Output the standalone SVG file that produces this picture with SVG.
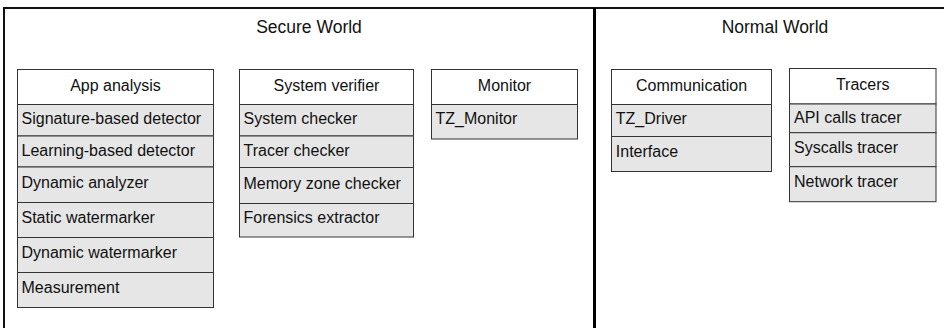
<svg xmlns="http://www.w3.org/2000/svg" width="944" height="328" viewBox="0 0 944 328">
<style>
.bg{fill:#ffffff}
.frame{fill:none;stroke:#111;stroke-width:2}
.div{stroke:#000;stroke-width:3}
.hd{fill:#ffffff;stroke:#333;stroke-width:1}
.row{fill:#e6e6e6;stroke:#333;stroke-width:1}
.title{font-family:"Liberation Sans",Arial,sans-serif;font-size:17.5px;fill:#111;text-anchor:middle}
.h{font-family:"Liberation Sans",Arial,sans-serif;font-size:16px;fill:#111;text-anchor:middle}
.t{font-family:"Liberation Sans",Arial,sans-serif;font-size:16px;fill:#111}
</style>
<rect class="bg" x="0" y="0" width="944" height="328"/>
<g id="frame">
<rect class="frame" x="4" y="8" width="980" height="360"/>
<line class="div" x1="594.5" y1="8" x2="594.5" y2="328"/>
<text class="title" x="309" y="33">Secure World</text>
<text class="title" x="775" y="33">Normal World</text>
</g>
<g id="app-analysis">
<rect class="hd" x="17.5" y="69.5" width="196" height="35"/>
<text class="h" x="115.5" y="91">App analysis</text>
<rect class="row" x="17.5" y="104.5" width="196" height="31.5"/>
<text class="t" x="21.5" y="124">Signature-based detector</text>
<rect class="row" x="17.5" y="136" width="196" height="31"/>
<text class="t" x="21.5" y="156">Learning-based detector</text>
<rect class="row" x="17.5" y="167" width="196" height="35.5"/>
<text class="t" x="21.5" y="188.3">Dynamic analyzer</text>
<rect class="row" x="17.5" y="202.5" width="196" height="35"/>
<text class="t" x="21.5" y="223.3">Static watermarker</text>
<rect class="row" x="17.5" y="237.5" width="196" height="35"/>
<text class="t" x="21.5" y="258.3">Dynamic watermarker</text>
<rect class="row" x="17.5" y="272.5" width="196" height="35"/>
<text class="t" x="21.5" y="292.7">Measurement</text>
</g>
<g id="system-verifier">
<rect class="hd" x="239.5" y="69.5" width="174" height="35"/>
<text class="h" x="326.5" y="91">System verifier</text>
<rect class="row" x="239.5" y="104.5" width="174" height="31.5"/>
<text class="t" x="243.5" y="123.5">System checker</text>
<rect class="row" x="239.5" y="136" width="174" height="31.5"/>
<text class="t" x="243.5" y="156">Tracer checker</text>
<rect class="row" x="239.5" y="167.5" width="174" height="36"/>
<text class="t" x="243.5" y="188.5">Memory zone checker</text>
<rect class="row" x="239.5" y="203.5" width="174" height="33.5"/>
<text class="t" x="243.5" y="223.3">Forensics extractor</text>
</g>
<g id="monitor">
<rect class="hd" x="431.5" y="69.5" width="146" height="35"/>
<text class="h" x="504.5" y="91">Monitor</text>
<rect class="row" x="431.5" y="104.5" width="146" height="34.5"/>
<text class="t" x="435.5" y="124.3">TZ_Monitor</text>
</g>
<g id="communication">
<rect class="hd" x="611.5" y="69.5" width="160" height="35"/>
<text class="h" x="691.5" y="91">Communication</text>
<rect class="row" x="611.5" y="104.5" width="160" height="32"/>
<text class="t" x="615.8" y="124">TZ_Driver</text>
<rect class="row" x="611.5" y="136.5" width="160" height="35"/>
<text class="t" x="615.8" y="156.7">Interface</text>
</g>
<g id="tracers">
<rect class="hd" x="789.5" y="68.5" width="146.5" height="35.5"/>
<text class="h" x="862.7" y="89.5">Tracers</text>
<rect class="row" x="789.5" y="104" width="146.5" height="28.7"/>
<text class="t" x="794" y="122.7">API calls tracer</text>
<rect class="row" x="789.5" y="132.7" width="146.5" height="34"/>
<text class="t" x="794" y="153.3">Syscalls tracer</text>
<rect class="row" x="789.5" y="166.7" width="146.5" height="35"/>
<text class="t" x="794" y="187.3">Network tracer</text>
</g>
<g id="connectors"></g>
</svg>
